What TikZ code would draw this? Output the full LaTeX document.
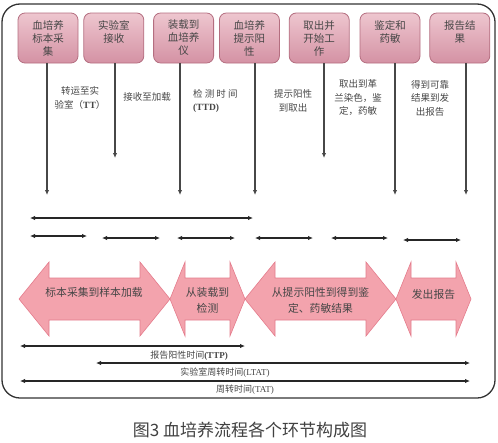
\documentclass[tikz,border=0pt]{standalone}
\usepackage{fontspec}
\setmainfont{Noto Sans CJK SC}
\newfontfamily\latfont{Liberation Serif}
\usetikzlibrary{arrows.meta, positioning}

\definecolor{boxtop}{RGB}{238,198,207}
\definecolor{boxbot}{RGB}{212,146,164}
\definecolor{boxline}{RGB}{180,110,128}
\definecolor{arrfill}{RGB}{243,163,173}
\definecolor{arrline}{RGB}{228,124,140}
\definecolor{ink}{RGB}{70,70,70}

\begin{document}
\begin{tikzpicture}[
    x=1pt, y=-1pt,
    >={Latex[length=5pt,width=4.5pt]},
    % Styles
    stage/.style={rectangle, draw=boxline, line width=0.8pt, top color=boxtop, bottom color=boxbot, rounded corners=7pt, minimum width=60pt, minimum height=50pt, inner sep=1pt, align=center, font=\fontsize{10.5}{13}\selectfont, text=ink},
    steplabel/.style={align=center, inner sep=0pt, font=\fontsize{9.5}{13.5}\selectfont, text=ink},
    vline/.style={->, line width=1.3pt, draw=black!72},
    spanarr/.style={<->, line width=1.2pt, draw=black!85},
    blockarr/.style={fill=arrfill, draw=arrline, line width=0.6pt},
    arrtext/.style={align=center, inner sep=0pt, font=\fontsize{10.8}{16}\selectfont, text=ink},
    spanlabel/.style={inner sep=0pt, font=\fontsize{9}{11}\selectfont, text=ink}
]
\useasboundingbox (0,0) rectangle (498,442);

% ========================================================
% FRAME
% ========================================================
\draw[line width=1.3pt, draw=black!80, rounded corners=18pt] (2,4) rectangle (495,398);

% ========================================================
% PART 1: STAGES (Top Row)
% ========================================================
\node[stage] (collect) at (48,38) {血培养\\标本采\\集};
\node[stage, right=5pt of collect] (receive) {实验室\\接收\\\mbox{}};
\node[stage, right=9pt of receive] (load) {装载到\\血培养\\仪};
\node[stage, right=5pt of load] (positive) {血培养\\提示阳\\性};
\node[stage, right=9pt of positive] (takeout) {取出并\\开始工\\作};
\node[stage, right=10pt of takeout] (identify) {鉴定和\\药敏\\\mbox{}};
\node[stage, right=9pt of identify] (report) {报告结\\果\\\mbox{}};

% Line ends
\coordinate (collectEnd) at (47,195);
\coordinate (receiveEnd) at (115,158);
\coordinate (loadEnd) at (180,195);
\coordinate (positiveEnd) at (255,195);
\coordinate (takeoutEnd) at (324,158);
\coordinate (identifyEnd) at (395,195);
\coordinate (reportEnd) at (466,195);

\draw[vline] (collect.south -| collectEnd) -- (collectEnd);
\draw[vline] (receive.south -| receiveEnd) -- (receiveEnd);
\draw[vline] (load.south -| loadEnd) -- (loadEnd);
\draw[vline] (positive.south -| positiveEnd) -- (positiveEnd);
\draw[vline] (takeout.south -| takeoutEnd) -- (takeoutEnd);
\draw[vline] (identify.south -| identifyEnd) -- (identifyEnd);
\draw[vline] (report.south -| reportEnd) -- (reportEnd);

% Interval labels
\node[steplabel] (lblTT) at (80,98) {转运至实\\验室（{\latfont\bfseries TT}）};
\node[steplabel] (lblLoad) at (147,97) {接收至加载};
\node[steplabel, anchor=west, align=left] (lblTTD) at (193,101) {检 测 时 间\\{\latfont\bfseries (TTD)}};
\node[steplabel] (lblOut) at (293,101) {提示阳性\\到取出};
\node[steplabel] (lblGram) at (358,98) {取出到革\\兰染色，鉴\\定，药敏};
\node[steplabel] (lblIssue) at (430,98) {得到可靠\\结果到发\\出报告};

% ========================================================
% PART 2: INTERVAL ARROWS
% ========================================================
\coordinate (longL) at (30,218);  \coordinate (longR) at (253,218);
\draw[spanarr] (longL) -- (longR);

\coordinate (s1L) at (30,236);  \coordinate (s1R) at (87,236);
\coordinate (s2L) at (102,238); \coordinate (s2R) at (160,238);
\coordinate (s3L) at (177,238); \coordinate (s3R) at (235,238);
\coordinate (s4L) at (255,238); \coordinate (s4R) at (313,238);
\coordinate (s5L) at (331,238); \coordinate (s5R) at (388,238);
\coordinate (s6L) at (403,240); \coordinate (s6R) at (461,240);
\foreach \i in {1,...,6}
  \draw[spanarr] (s\i L) -- (s\i R);

% ========================================================
% PART 3: PHASE ARROWS
% ========================================================
\draw[blockarr] (19,299) -- (49,262) -- (49,278) -- (140,278) -- (140,262) -- (170,299)
  -- (140,336) -- (140,320) -- (49,320) -- (49,336) -- cycle;
\node[arrtext] (phase1) at (94,292) {标本采集到样本加载};

\draw[blockarr] (170,299) -- (185,262) -- (185,278) -- (230,278) -- (230,262) -- (245,299)
  -- (230,336) -- (230,320) -- (185,320) -- (185,336) -- cycle;
\node[arrtext] (phase2) at (207.5,300) {从装载到\\检测};

\draw[blockarr] (245,299) -- (275,262) -- (275,278) -- (366,278) -- (366,262) -- (396,299)
  -- (366,336) -- (366,320) -- (275,320) -- (275,336) -- cycle;
\node[arrtext] (phase3) at (320.5,300) {从提示阳性到得到鉴\\定、药敏结果};

\draw[blockarr] (396,299) -- (411,262) -- (411,278) -- (456,278) -- (456,262) -- (471,299)
  -- (456,336) -- (456,320) -- (411,320) -- (411,336) -- cycle;
\node[arrtext] (phase4) at (433.5,294) {发出报告};

% ========================================================
% PART 4: TURNAROUND TIMES
% ========================================================
\coordinate (preL) at (20,346);   \coordinate (preR) at (245,346);
\draw[spanarr] (preL) -- (preR);

\node[spanlabel] (lblTTP) at (189,356) {报告阳性时间{\latfont\bfseries(TTP)}};
\coordinate (ttpL) at (96,363);   \coordinate (ttpR) at (470,363);
\draw[spanarr] (ttpL) -- (ttpR);

\node[spanlabel] (lblLTAT) at (225,373) {实验室周转时间{\latfont(LTAT)}};
\coordinate (ltatL) at (20,381);  \coordinate (ltatR) at (470,381);
\draw[spanarr] (ltatL) -- (ltatR);

\node[spanlabel] (lblTAT) at (245,390) {周转时间{\latfont(TAT)}};

% Caption
\node[font=\fontsize{17}{17}\selectfont, text=black!75, inner sep=0pt] (caption) at (250,430) {图3 血培养流程各个环节构成图};

\end{tikzpicture}
\end{document}
